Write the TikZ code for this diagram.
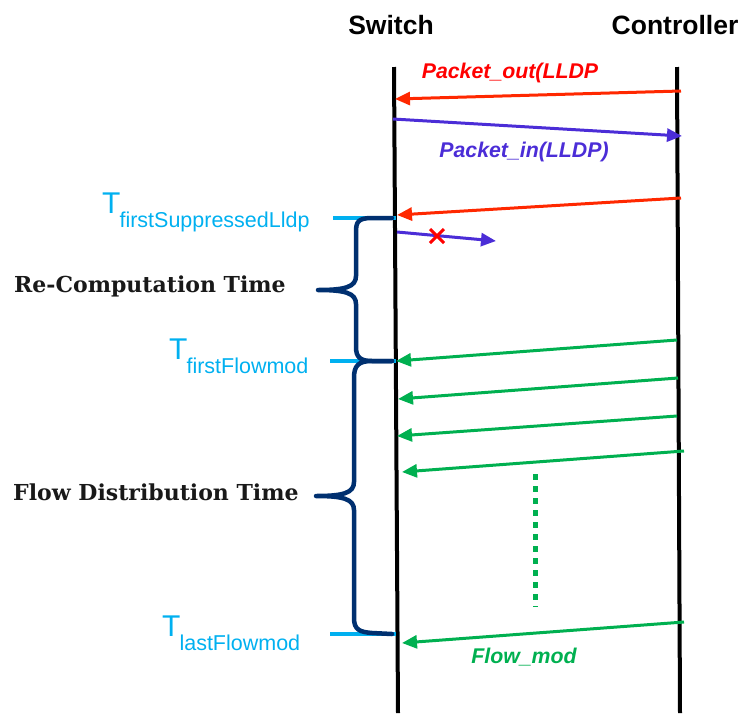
\documentclass[tikz,border=0pt]{standalone}
\usepackage{fontspec}
\setmainfont{Liberation Sans}
\newfontfamily\phaseserif{DejaVu Serif}
\usetikzlibrary{arrows.meta}

\definecolor{msgred}{RGB}{255,40,0}
\definecolor{msgblue}{RGB}{75,45,215}
\definecolor{msggreen}{RGB}{0,176,80}
\definecolor{tcyan}{RGB}{0,176,240}
\definecolor{bracenavy}{RGB}{0,48,112}

\newcommand{\tstamp}[1]{\fontsize{30}{30}\selectfont T\kern-1pt\raisebox{-14pt}{\fontsize{21.5}{22}\selectfont #1}}

\begin{document}
\begin{tikzpicture}[x=1pt,y=-1pt,
    lifeline/.style={line width=4pt},
    msg/.style={line width=3pt,-{Triangle[length=15pt,width=13pt]}},
    msglabel/.style={font=\fontsize{21.3}{25}\selectfont\bfseries\itshape,inner sep=0pt},
    head/.style={font=\fontsize{26.5}{30}\selectfont\bfseries},
    tick/.style={tcyan,line width=4pt},
    timebrace/.style={bracenavy,line width=4.5pt,line cap=round,line join=round},
    phase/.style={font=\phaseserif\fontsize{22}{26}\selectfont\bfseries,text=black!90,inner sep=0pt,anchor=base west},
    tlabel/.style={text=tcyan,inner sep=0pt,anchor=base west}]

    \useasboundingbox (0,0) rectangle (742,713);

    % lifelines
    \node[head] (switch) at (391,25) {Switch};
    \node[head] (controller) at (675,25) {Controller};
    \coordinate (swtop) at (394,67);
    \coordinate (swbot) at (398,713);
    \coordinate (cttop) at (677,67);
    \coordinate (ctbot) at (680,713);
    \draw[lifeline] (swtop) -- (swbot);
    \draw[lifeline] (cttop) -- (ctbot);

    % LLDP exchange
    \coordinate (po1) at (681,91);
    \coordinate (po1s) at (395,99);
    \draw[msg,msgred] (po1) -- (po1s);
    \node[msglabel,text=red] (pktout) at (510,73) {Packet\_out(LLDP};

    \coordinate (pi1s) at (393,119);
    \coordinate (pi1) at (682,136);
    \draw[msg,msgblue] (pi1s) -- (pi1);
    \node[msglabel,text=msgblue] (pktin) at (524,152) {Packet\_in(LLDP)};

    \coordinate (po2) at (681,198);
    \coordinate (po2s) at (397,215);
    \draw[msg,msgred] (po2) -- (po2s);

    % suppressed packet_in
    \coordinate (pi2s) at (397,232);
    \coordinate (pi2) at (496,241);
    \draw[msg,msgblue] (pi2s) -- (pi2);
    \coordinate (drop) at (437,236);
    \draw[red,line width=3pt] (drop) ++(-7,-7) -- ++(14,14);
    \draw[red,line width=3pt] (drop) ++(7,-7) -- ++(-14,14);

    % flow mods
    \foreach \xc/\yc/\xs/\ys [count=\i] in {677/340/396/361,678/378/398/399,677/416/397/436,684/451/402/472,684/622/402/643}{
        \coordinate (fm\i) at (\xc,\yc);
        \coordinate (fm\i s) at (\xs,\ys);
        \draw[msg,msggreen] (fm\i) -- (fm\i s);
    }
    \coordinate (dotstop) at (535,474);
    \coordinate (dotsbot) at (535,607);
    \draw[msggreen,line width=5pt,dash pattern=on 6pt off 6pt] (dotstop) -- (dotsbot);
    \node[msglabel,text=msggreen] (flowmod) at (524,657) {Flow\_mod};

    % time stamps
    \coordinate (tsup) at (396,218);
    \coordinate (tfirst) at (396,361);
    \coordinate (tlast) at (396,634);
    \draw[tick] (tsup) -- ++(-63,0);
    \draw[tick] (tfirst) -- ++(-66,0);
    \draw[tick] (tlast) -- ++(-66,0);
    \node[tlabel] (tsuplbl) at (102,213) {\tstamp{firstSuppressedLldp}};
    \node[tlabel] (tfirstlbl) at (169,359) {\tstamp{firstFlowmod}};
    \node[tlabel] (tlastlbl) at (162,636) {\tstamp{lastFlowmod}};

    % braces
    \draw[timebrace] (392,218) -- (372,218) .. controls (358,218) and (356,222) .. (356,232)
        -- (356,276) .. controls (356,287) and (345,290) .. (318,290)
        .. controls (345,290) and (356,293) .. (356,304)
        -- (356,347) .. controls (356,357) and (360,361) .. (372,361) -- (392,361);
    \draw[timebrace] (392,361) -- (372,361) .. controls (358,361) and (354,366) .. (354,378)
        -- (354,482) .. controls (354,493) and (343,496) .. (316,496)
        .. controls (343,496) and (354,499) .. (354,510)
        -- (354,618) .. controls (354,630) and (360,632) .. (372,633) -- (392,634);
    \node[phase] (recomp) at (14,292) {Re-Computation Time};
    \node[phase] (flowdist) at (13,500) {Flow Distribution Time};

\end{tikzpicture}
\end{document}
